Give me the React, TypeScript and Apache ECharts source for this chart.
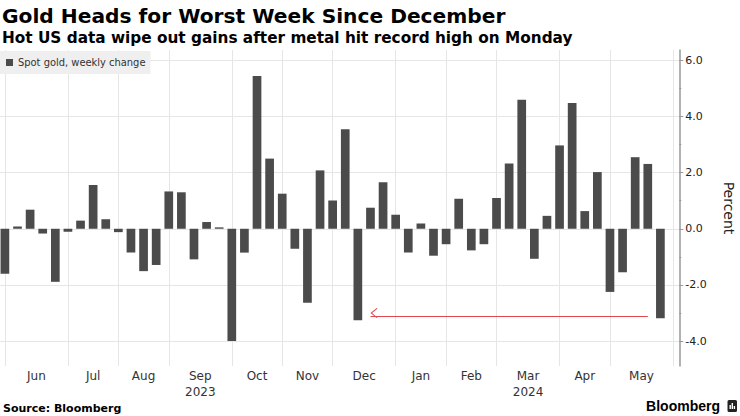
import React, { useEffect, useRef } from "react";
import * as echarts from "echarts";

// ---- Data ----
const weeklyChange: (number | null)[] = [
  -1.6, 0.08, 0.68, -0.17, -1.89, -0.11, 0.29, 1.56, 0.34, -0.12,
  -0.85, -1.51, -1.29, 1.33, 1.3, -1.09, 0.24, 0.05, -4.0, -0.85,
  5.44, 2.5, 1.25, -0.71, -2.64, 2.08, 1.01, 3.55, -3.26, 0.75,
  1.66, 0.5, -0.85, 0.19, -0.96, -0.55, 1.07, -0.77, -0.55, 1.1,
  2.33, 4.6, -1.07, 0.46, 2.97, 4.48, 0.63, 2.02, -2.25, -1.55,
  2.55, 2.31, -3.19, null,
];
const firstWeek = "2023-05-26";
// week indices where a new month begins (vertical grid lines)
const monthBoundaries = [0, 5, 9, 13, 18, 22, 26, 31, 35, 39, 44, 48, 53];
const monthLabels = ["Jun", "Jul", "Aug", "Sep", "Oct", "Nov", "Dec", "Jan", "Feb", "Mar", "Apr", "May"];
const yearLabels: Record<string, string> = { Sep: "2023", Mar: "2024" };
const yMajorTicks = [-4, -2, 0, 2, 4, 6];
const yMinorTicks = [-3, -1, 1, 3, 5];
const arrowFromWeek = 51;
const arrowToWeek = 29;
const arrowLevel = -3.13;

const TITLE = "Gold Heads for Worst Week Since December";
const SUBTITLE = "Hot US data wipe out gains after metal hit record high on Monday";
const SERIES_NAME = "Spot gold, weekly change";

const FONT = '"DejaVu Sans", sans-serif';
const FONT_COND = '"DejaVu Sans Condensed", "DejaVu Sans", sans-serif';

function weekDates(start: string, n: number): string[] {
  const t0 = new Date(start + "T00:00:00Z").getTime();
  return Array.from({ length: n }, (_, i) =>
    new Date(t0 + i * 7 * 86400000).toISOString().slice(0, 10)
  );
}

export default function App() {
  const ref = useRef<HTMLDivElement>(null);

  useEffect(() => {
    if (!ref.current) return;
    const chart = echarts.init(ref.current, undefined, { renderer: "svg" });

    const weeks = weekDates(firstWeek, weeklyChange.length);
    const monthAxisData: string[] = Array.from({ length: 2 * weeks.length + 1 }, () => "");
    monthLabels.forEach((m, i) => {
      const j = monthBoundaries[i] + monthBoundaries[i + 1] + 1;
      monthAxisData[j] = yearLabels[m] ? m + "\n" + yearLabels[m] : m;
    });
    const gridLineIdx = new Set(monthBoundaries.map((b) => 2 * b + 1));

    const yMin = -4.89;
    const yMax = 6.37;

    const chevron = "path://M0,10 L10,0 L20,10 L18.6,11.2 L10,2.6 L1.4,11.2 Z";

    chart.setOption({
      animation: false,
      grid: {
        left: -1.4,
        right: 60.7,
        top: 50,
        bottom: 50,
        containLabel: false,
        outerBoundsMode: "none",
      },
      legend: {
        show: true,
        left: 0,
        top: 51,
        padding: [6, 5, 6, 6],
        backgroundColor: "#efefef",
        icon: "rect",
        itemWidth: 7,
        itemHeight: 7,
        selectedMode: false,
        textStyle: { fontSize: 11, fontFamily: FONT_COND, color: "#333" },
        data: [SERIES_NAME],
      },
      xAxis: [
        {
          type: "category",
          data: weeks,
          boundaryGap: true,
          axisLine: { show: false },
          axisTick: { show: false },
          axisLabel: { show: false },
          splitLine: { show: false },
        },
        {
          type: "category",
          data: monthAxisData,
          boundaryGap: false,
          position: "bottom",
          axisLine: { show: false },
          axisTick: { show: false },
          axisLabel: {
            interval: 0,
            margin: 2,
            fontSize: 12,
            lineHeight: 16,
            color: "#333",
            fontFamily: FONT,
          },
          splitLine: {
            show: true,
            interval: (i: number) => gridLineIdx.has(i),
            lineStyle: { color: "#e6e6e6", width: 1 },
          },
        },
      ],
      yAxis: [
        {
          type: "value",
          position: "right",
          min: yMin,
          max: yMax,
          name: "Percent",
          nameLocation: "middle",
          nameRotate: -90,
          nameGap: 43,
          nameTextStyle: { fontSize: 14, color: "#222", fontFamily: FONT },
          axisLine: { show: true, lineStyle: { color: "#999", width: 1.5 } },
          axisTick: {
            show: true,
            customValues: yMajorTicks,
            length: 4,
            lineStyle: { color: "#999" },
          },
          axisLabel: {
            customValues: yMajorTicks,
            formatter: (v: number) => v.toFixed(1),
            margin: 6,
            fontSize: 11,
            color: "#222",
            fontFamily: FONT,
          },
          splitLine: { show: true, lineStyle: { color: "#e6e6e6", width: 1 } },
        },
        {
          type: "value",
          position: "right",
          min: yMin,
          max: yMax,
          axisLine: { show: false },
          axisTick: {
            show: true,
            customValues: yMinorTicks,
            length: 2,
            lineStyle: { color: "#999" },
          },
          axisLabel: { show: false },
          splitLine: { show: false },
        },
      ],
      series: [
        {
          name: SERIES_NAME,
          type: "bar",
          xAxisIndex: 0,
          yAxisIndex: 0,
          data: weeklyChange,
          barCategoryGap: "31%",
          itemStyle: { color: "#4b4b4b" },
          markLine: {
            silent: true,
            symbol: ["none", chevron],
            symbolSize: [10, 7],
            symbolOffset: [0, 3.5],
            label: { show: false },
            lineStyle: { color: "#e2474f", width: 1, type: "solid" },
            emphasis: { disabled: true },
            data: [
              [
                { coord: [weeks[arrowFromWeek], arrowLevel] },
                { coord: [weeks[arrowToWeek], arrowLevel] },
              ],
            ],
          },
        },
      ],
      graphic: [
        {
          type: "text",
          x: 2,
          y: 15.5,
          style: {
            text: TITLE,
            fontSize: 20.2,
            fontWeight: "bold",
            fontFamily: FONT,
            fill: "#000",
            verticalAlign: "middle",
          },
        },
        {
          type: "text",
          x: 2,
          y: 37.5,
          style: {
            text: SUBTITLE,
            fontSize: 15.3,
            fontWeight: "bold",
            fontFamily: FONT,
            fill: "#000",
            verticalAlign: "middle",
          },
        },
        {
          type: "text",
          x: 3,
          y: 408.5,
          style: {
            text: "Source: Bloomberg",
            fontSize: 11,
            fontWeight: "bold",
            fontFamily: FONT,
            fill: "#000",
            verticalAlign: "middle",
          },
        },
        {
          type: "text",
          x: 720,
          y: 406,
          style: {
            text: "Bloomberg",
            fontSize: 14,
            fontWeight: "bold",
            fontFamily: '"Liberation Sans", Arial, sans-serif',
            fill: "#000",
            align: "right",
            verticalAlign: "middle",
          },
        },
        {
          type: "group",
          x: 727.5,
          y: 400,
          children: [
            { type: "rect", shape: { x: 0, y: 0, width: 9.5, height: 12, r: 1.5 }, style: { fill: "#222" } },
            { type: "rect", shape: { x: 2, y: 5, width: 1.4, height: 4 }, style: { fill: "#fff" } },
            { type: "rect", shape: { x: 4.1, y: 3, width: 1.4, height: 6 }, style: { fill: "#fff" } },
            { type: "rect", shape: { x: 6.2, y: 6, width: 1.4, height: 3 }, style: { fill: "#fff" } },
          ],
        },
      ],
    });

    return () => chart.dispose();
  }, []);

  return (
    <div
      ref={ref}
      style={{ position: "fixed", left: 0, top: 0, width: 740, height: 416, background: "#fff" }}
    />
  );
}
